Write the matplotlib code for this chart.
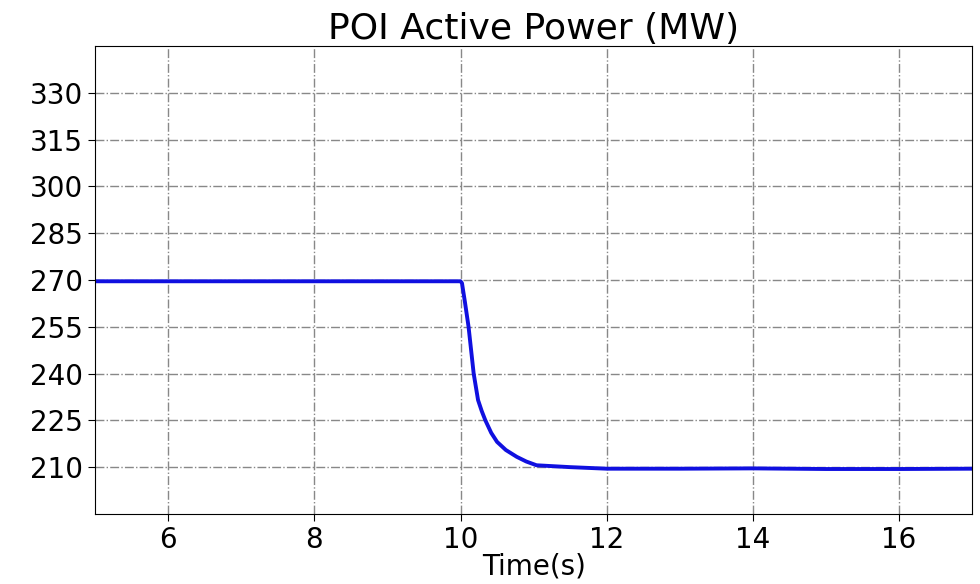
import numpy as np
import matplotlib.pyplot as plt

# POI active power
time_s = [5.0, 10.0, 10.02, 10.06, 10.11, 10.18, 10.24, 10.29, 10.34, 10.42,
          10.50, 10.62, 10.77, 10.90, 11.04, 11.5, 12.0, 13.0, 14.0, 15.0,
          16.0, 17.0]
power_mw = [269.6, 269.6, 269.0, 263.0, 255.0, 240.0, 231.5, 228.0, 225.0, 221.0,
            218.1, 215.5, 213.3, 211.8, 210.6, 210.0, 209.5, 209.5, 209.6, 209.4,
            209.4, 209.5]

y_ticks = [210, 225, 240, 255, 270, 285, 300, 315, 330]
x_ticks = [6, 8, 10, 12, 14, 16]

fig, ax = plt.subplots(figsize=(9.8, 5.84), dpi=100)
fig.subplots_adjust(left=0.097, right=0.992, top=0.921, bottom=0.12)

ax.plot(time_s, power_mw, color='#1010e0', linewidth=2.8)

ax.set_xlim(5, 17)
ax.set_ylim(195, 345)
ax.set_xticks(x_ticks)
ax.set_yticks(y_ticks)
ax.tick_params(labelsize=20, length=5)
ax.grid(True, linestyle='-.', color='#888888', linewidth=1)

ax.set_title('POI Active Power (MW)', fontsize=26, pad=5)
ax.set_xlabel('Time(s)', fontsize=20, labelpad=-1)

fig.savefig('out.png', dpi=100)
